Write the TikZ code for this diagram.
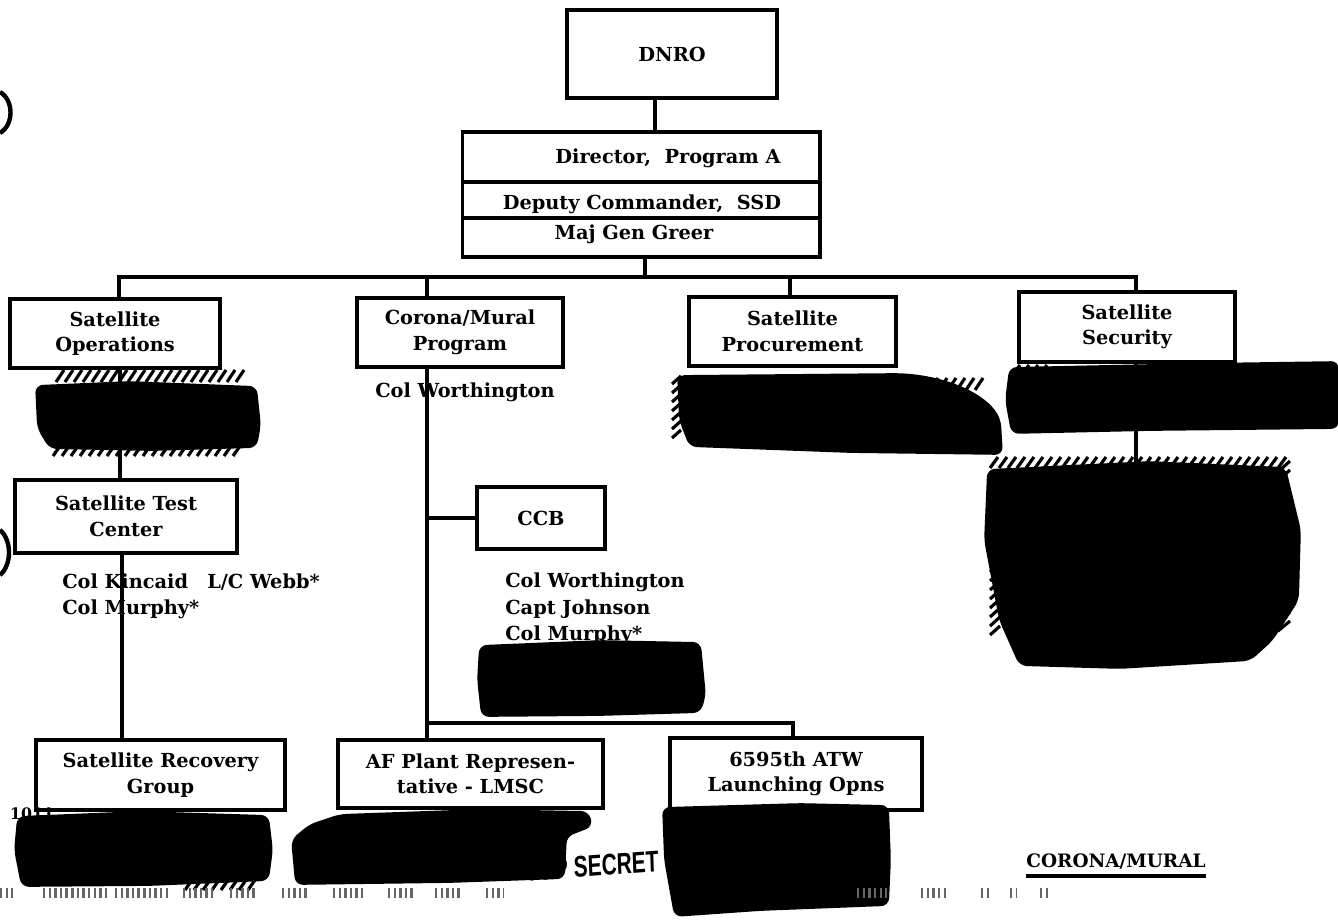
\documentclass[tikz,border=0pt]{standalone}
\usepackage{fontspec}
\setmainfont{DejaVu Serif}
\newfontfamily\stampfont{Liberation Sans}
\begin{document}
\begin{tikzpicture}[x=0.02cm,y=-0.02cm,
  box/.style={draw, line width=1.75pt, rectangle, align=center, font=\bfseries\fontsize{11}{14.5}\selectfont, inner sep=2pt},
  lbl/.style={font=\bfseries\fontsize{11}{15}\selectfont, inner sep=0pt, align=left},
  con/.style={line width=1.75pt},
  redact/.style={fill=black, draw=black, line width=1pt, rounded corners=4pt},
  hatchst/.style={line width=1.8pt, line cap=butt},
  glyphs/.style={line width=6pt, dash pattern=on 1.4pt off 1.8pt, black!60},
  hole/.style={line width=2.5pt}
]
\useasboundingbox (0,0) rectangle (1338,922);
\fill[white] (0,0) rectangle (1338,922);

% ---------- boxes ----------
\node[box, minimum width=4.2cm, minimum height=1.76cm] (dnro) at (672,54) {DNRO};
\node[box, minimum width=7.16cm, minimum height=2.5cm] (dir) at (641,194.5) {};
\draw[con] (dir.west |- 0,182) -- (dir.east |- 0,182);
\draw[con] (dir.west |- 0,218) -- (dir.east |- 0,218);
\node[lbl] (dirA) at (668,158) {Director,\ \ Program A};
\node[lbl] (dirB) at (642,204) {Deputy Commander,\ \ SSD};
\node[lbl] (dirC) at (634,234) {Maj Gen Greer};

\node[box, minimum width=4.2cm, minimum height=1.38cm] (sops) at (115,333.5) {Satellite\\Operations};
\node[box, minimum width=4.12cm, minimum height=1.38cm] (cor) at (460,332.5) {Corona/Mural\\Program};
\node[box, minimum width=4.14cm, minimum height=1.38cm] (proc) at (792.5,331.5) {Satellite\\Procurement};
\node[box, minimum width=4.32cm, minimum height=1.4cm] (sec) at (1127,327) {Satellite\\Security};
\node[box, minimum width=4.44cm, minimum height=1.46cm] (tc) at (126,516.5) {Satellite Test\\Center};
\node[box, minimum width=2.56cm, minimum height=1.24cm] (ccb) at (541,518) {CCB};
\node[box, minimum width=4.98cm, minimum height=1.4cm] (rec) at (160.5,775) {Satellite Recovery\\Group};
\node[box, minimum width=5.3cm, minimum height=1.36cm] (af) at (470.5,774) {AF Plant Represen-\\tative - LMSC};
\node[box, minimum width=5.04cm, minimum height=1.44cm] (atw) at (796,774) {6595th ATW\\Launching Opns};

% ---------- connectors ----------
\coordinate (k1) at (655,0);
\draw[con] (k1 |- dnro.south) -- (k1 |- dir.north);
\coordinate (bL) at (119,277);
\coordinate (bC) at (427,277);
\coordinate (bD) at (645,277);
\coordinate (bP) at (790,277);
\coordinate (bR) at (1136,277);
\draw[con] (bL |- sops.north) -- (bL) -- (bR) -- (bR |- sec.north);
\draw[con] (bC) -- (bC |- cor.north);
\draw[con] (bP) -- (bP |- proc.north);
\draw[con] (bD |- dir.south) -- (bD);
\coordinate (v1) at (120,0);
\coordinate (v2) at (122,0);
\draw[con] (v1 |- sops.south) -- (v1 |- tc.north);
\draw[con] (v2 |- tc.south) -- (v2 |- rec.north);
\draw[con] (bC |- cor.south) -- (bC |- af.north);
\draw[con] (bC |- ccb.west) -- (ccb.west);
\coordinate (bb) at (793,723);
\draw[con] (bC |- bb) -- (bb) -- (bb |- atw.north);
\coordinate (secend) at (1136,468);
\draw[con] (bR |- sec.south) -- (secend);

% ---------- name labels ----------
\node[lbl] (cw) at (465,392) {Col Worthington};
\node[lbl, anchor=west] (tcn) at (62,596.5) {Col Kincaid\hspace{11pt}L/C Webb*\\Col Murphy*};
\node[lbl, anchor=west] (ccbn) at (505,609) {Col Worthington\\Capt Johnson\\Col Murphy*};

% ---------- stamp texts (partly hidden) ----------
\node[font=\stampfont\bfseries\fontsize{17}{17}\selectfont, xscale=0.7, rotate=3, inner sep=0pt] (ts) at (592,866) {TOP SECRET};
\node[font=\bfseries\fontsize{9}{9}\selectfont, inner sep=0pt] (n1011) at (32,814) {1011};
\node[font=\bfseries\fontsize{10.5}{11}\selectfont, inner sep=0pt] (cm) at (1116,862) {CORONA/MURAL};
\draw[con] (cm.south west |- 0,876) -- (cm.south east |- 0,876);

% ---------- redactions ----------
% Satellite Operations
\foreach \x in {56,65,...,236} \draw[hatchst] (\x,382) -- ++(8,-12);
\foreach \x in {53,62,...,236} \draw[hatchst] (\x,456) -- ++(7,-10);
\fill[redact] (36,386) -- (130,382) -- (256,387) -- (260,425) -- (256,447) -- (150,450) -- (50,448) -- (38,428) -- cycle;
% Satellite Procurement
\foreach \y in {384,393,...,440} \draw[hatchst] (672,\y) -- ++(9,-8);
\foreach \x in {930,939,...,980} \draw[hatchst] (\x,390) -- ++(8,-12);
\fill[redact] (678,376) -- (900,374) .. controls (950,378) and (985,395) .. (1000,420) -- (1002,454) -- (850,452) -- (690,446) -- (680,420) -- cycle;
% Satellite Security band
\foreach \x in {1012,1021,...,1046} \draw[hatchst] (\x,376) -- ++(8,-11);
\fill[redact] (1010,368) -- (1200,364) -- (1338,362) -- (1338,428) -- (1150,430) -- (1012,433) -- (1006,400) -- cycle;
% Satellite Security large block
\foreach \x in {990,999,...,1285} \draw[hatchst] (\x,468) -- ++(8,-11);
\foreach \y in {572,581,...,640} \draw[hatchst] (990,\y) -- ++(10,-9);
\foreach \y in {586,595,...,638} \draw[hatchst] (1278,\y) -- ++(12,-10);
\foreach \y in {470,479} \draw[hatchst] (1280,\y) -- ++(10,-9);
\fill[redact] (988,470) -- (1150,462) -- (1285,468) -- (1300,530) -- (1298,600) -- (1272,640) -- (1250,660) -- (1120,668) -- (1020,665) -- (1000,620) -- (985,540) -- cycle;
% CCB names
\fill[redact] (480,646) -- (600,641) -- (700,643) -- (705,695) -- (700,712) -- (600,715) -- (482,716) -- (478,680) -- cycle;
% Recovery group
\foreach \x in {185,194,...,250} \draw[hatchst] (\x,890) -- ++(7,-10);
\fill[redact] (18,817) -- (140,812) -- (268,816) -- (272,850) -- (268,880) -- (150,885) -- (22,886) -- (15,850) -- cycle;
% AF Plant
\fill[redact] (340,815) -- (480,810) -- (588,812) -- (592,826) -- (566,836) -- (564,878) -- (450,882) -- (296,884) -- (292,840) -- (310,825) -- cycle;
% 6595th
\fill[redact] (663,808) -- (800,804) -- (888,806) -- (890,860) -- (888,905) -- (760,910) -- (675,916) -- (665,860) -- cycle;

% ---------- scan artefacts ----------
\draw[hole] (0,92) .. controls (14,100) and (14,125) .. (0,133);
\draw[hole] (0,530) .. controls (12,540) and (12,565) .. (0,575);
\foreach \x/\w in {0/13,43/64,115/55,183/30,230/26,282/25,333/30,388/26,435/26,486/17,857/30,921/26,981/8,1010/6,1040/8}
  \draw[glyphs] (\x,893) -- ++(\w,0);
\end{tikzpicture}
\end{document}
